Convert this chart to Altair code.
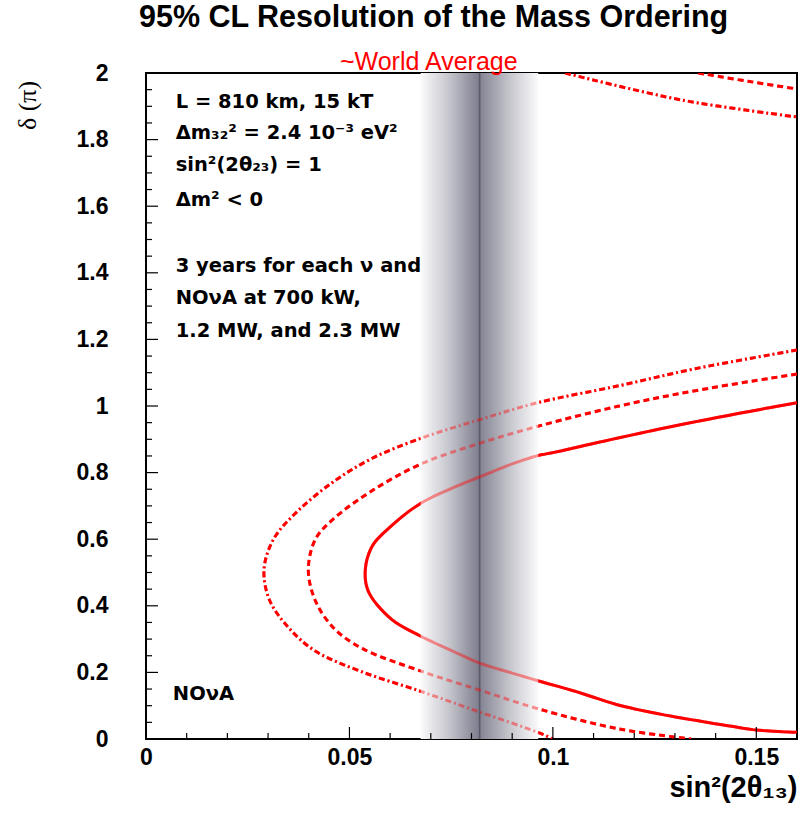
import altair as alt
import pandas as pd

# ---------------- data ----------------
curve_names = ["2.3 MW", "1.2 MW", "700 kW"]

# solid contour (2.3 MW)
solid_x = [0.160, 0.148, 0.136, 0.124, 0.112, 0.100, 0.0963, 0.090, 0.082, 0.075,
           0.0673, 0.0603, 0.0556, 0.0539, 0.0547, 0.0603, 0.0673, 0.075, 0.082,
           0.090, 0.0963, 0.105, 0.1163, 0.125, 0.135, 0.143, 0.150, 0.160]
solid_y = [1.010, 0.983, 0.955, 0.925, 0.893, 0.860, 0.851, 0.826, 0.787, 0.752,
           0.706, 0.640, 0.579, 0.508, 0.442, 0.360, 0.310, 0.266, 0.228,
           0.198, 0.175, 0.145, 0.1015, 0.078, 0.056, 0.040, 0.027, 0.020]

# dashed contour (1.2 MW)
dash_x = [0.160, 0.135, 0.1163, 0.0963, 0.082, 0.0678, 0.0556, 0.046, 0.0416, 0.0399,
          0.0416, 0.046, 0.0528, 0.0678, 0.082, 0.0963, 0.1163, 0.134]
dash_y = [1.096, 1.046, 1.000, 0.939, 0.888, 0.827, 0.746, 0.660, 0.599, 0.508,
          0.416, 0.335, 0.274, 0.203, 0.147, 0.091, 0.030, 0.000]
dash_top_x = [0.1357, 0.148, 0.160]
dash_top_y = [2.000, 1.975, 1.952]

# dash-dot contour (700 kW)
dd_x = [0.160, 0.135, 0.1163, 0.0963, 0.082, 0.0678, 0.0556, 0.046, 0.0369, 0.0313,
        0.029, 0.0304, 0.035, 0.0416, 0.0528, 0.0678, 0.082, 0.0963, 0.100]
dd_y = [1.168, 1.112, 1.061, 1.010, 0.959, 0.904, 0.843, 0.772, 0.680, 0.599,
        0.508, 0.416, 0.335, 0.264, 0.203, 0.142, 0.081, 0.020, 0.000]
dd_top_x = [0.103, 0.1316, 0.160]
dd_top_y = [2.000, 1.919, 1.868]

# world-average band (sin^2 2theta13)
band_lo, band_mid, band_hi = 0.0675, 0.082, 0.0964

# axis ticks
x_major = [0, 0.05, 0.10, 0.15]
x_minor = [0.01, 0.02, 0.03, 0.04, 0.06, 0.07, 0.08, 0.09, 0.11, 0.12, 0.13, 0.14, 0.16]
y_major = [0, 0.2, 0.4, 0.6, 0.8, 1.0, 1.2, 1.4, 1.6, 1.8, 2.0]
y_minor = [0.05, 0.1, 0.15, 0.25, 0.3, 0.35, 0.45, 0.5, 0.55, 0.65, 0.7, 0.75,
           0.85, 0.9, 0.95, 1.05, 1.1, 1.15, 1.25, 1.3, 1.35, 1.45, 1.5, 1.55,
           1.65, 1.7, 1.75, 1.85, 1.9, 1.95]

# annotation text
note_text = ["L = 810 km, 15 kT",
             "\u0394m\u2083\u2082\u00b2 = 2.4 10\u207b\u00b3 eV\u00b2",
             "sin\u00b2(2\u03b8\u2082\u2083) = 1",
             "\u0394m\u00b2 < 0",
             "3 years for each \u03bd and \u03bd\u0304",
             "NO\u03bdA at 700 kW,",
             "1.2 MW, and 2.3 MW",
             "NO\u03bdA"]
note_x = [0.0073] * 7 + [0.0066]
note_y = [1.895, 1.802, 1.706, 1.600, 1.402, 1.306, 1.207, 0.117]

wa_text = "~World Average"
wa_x = 0.0695
wa_y = 2.0

# ---------------- tables ----------------
rows = []
def add(curve, seg, xs_, ys_):
    for i, (a, b) in enumerate(zip(xs_, ys_)):
        rows.append({"curve": curve, "seg": curve + "_" + seg, "i": i, "x": a, "y": b})

add("2.3 MW", "main", solid_x, solid_y)
add("1.2 MW", "main", dash_x, dash_y)
add("1.2 MW", "top", dash_top_x, dash_top_y)
add("700 kW", "main", dd_x, dd_y)
add("700 kW", "top", dd_top_x, dd_top_y)
curves = pd.DataFrame(rows)

band = pd.DataFrame({"x": [band_lo], "mid": [band_mid], "hi": [band_hi]})
notes = pd.DataFrame({"x": note_x, "y": note_y, "text": note_text})
wa = pd.DataFrame({"x": [wa_x], "y": [wa_y], "text": [wa_text]})
xt_major = pd.DataFrame({"x": x_major})
xt_minor = pd.DataFrame({"x": x_minor})
yt_major = pd.DataFrame({"y": y_major})
yt_minor = pd.DataFrame({"y": y_minor})

W, H = 651, 666
xs = alt.Scale(domain=[0, 0.16], nice=False, zero=False)
ys = alt.Scale(domain=[0, 2], nice=False, zero=False)

x_axis = alt.Axis(values=x_major, format="~g", ticks=False, domain=False, grid=False,
                  labelFont="Liberation Sans", labelFontSize=23, labelFontWeight="bold",
                  labelColor="black", labelPadding=7, labelFlush=False, labelOverlap=False,
                  title="sin\u00b2(2\u03b8\u2081\u2083)", titleFont="Liberation Sans",
                  titleFontSize=29, titleFontWeight="bold", titleColor="black",
                  titleX=W, titleY=57, titleAlign="right", titleBaseline="alphabetic")
y_axis = alt.Axis(values=y_major, format="~g", ticks=False, domain=False, grid=False,
                  labelFont="Liberation Sans", labelFontSize=23, labelFontWeight="bold",
                  labelColor="black", labelPadding=38, labelFlush=False, labelOverlap=False,
                  title="\u03b4 (\u03c0)", titleFont="Liberation Serif", titleFontSize=26,
                  titleFontWeight="normal", titleColor="black", titleAngle=270,
                  titleX=-119, titleY=32, titleAlign="center", titleBaseline="middle")

X = alt.X("x:Q", scale=xs, axis=x_axis)
Y = alt.Y("y:Q", scale=ys, axis=y_axis)

dash_scale = alt.Scale(domain=curve_names, range=[[10, 0], [6, 4], [6, 3, 2, 3]])

def curve_layer(opacity):
    return alt.Chart(curves).mark_line(color="#ff0000", strokeWidth=3, clip=True,
                                       strokeCap="butt", opacity=opacity,
                                       interpolate="catmull-rom").encode(
        x=X, y=Y,
        detail="seg:N",
        order="i:Q",
        strokeDash=alt.StrokeDash("curve:N", scale=dash_scale, legend=None),
    )

curves_full = curve_layer(1.0)
curves_faded = curve_layer(0.42)

notes_layer = alt.Chart(notes).mark_text(align="left", baseline="alphabetic", font="DejaVu Sans",
                                         fontWeight="bold", fontSize=19.5, color="black").encode(
    x=X, y=Y, text="text:N")

grad_left = alt.Gradient(gradient="linear", x1=0, x2=1, y1=0, y2=0, stops=[
    alt.GradientStop(color="#fbfbfc", offset=0),
    alt.GradientStop(color="#c3c3cb", offset=0.5),
    alt.GradientStop(color="#7c7c8c", offset=1)])
grad_right = alt.Gradient(gradient="linear", x1=0, x2=1, y1=0, y2=0, stops=[
    alt.GradientStop(color="#838393", offset=0),
    alt.GradientStop(color="#c4c4cc", offset=0.5),
    alt.GradientStop(color="#fbfbfc", offset=1)])

band_left = alt.Chart(band).mark_rect(fill=grad_left).encode(
    x=X, x2="mid:Q", y=alt.value(0), y2=alt.value(H))
band_right = alt.Chart(band).mark_rect(fill=grad_right).encode(
    x=alt.X("mid:Q", scale=xs, axis=x_axis), x2="hi:Q", y=alt.value(0), y2=alt.value(H))
band_line = alt.Chart(band).mark_rule(color="#5a5a6c", strokeWidth=1.6).encode(
    x=alt.X("mid:Q", scale=xs, axis=x_axis), y=alt.value(0), y2=alt.value(H))

def xticks(df, length):
    return alt.Chart(df).mark_rule(color="black", strokeWidth=1.2).encode(
        x=X, y=alt.value(H), y2=alt.value(H - length))

def yticks(df, length):
    return alt.Chart(df).mark_rule(color="black", strokeWidth=1.2).encode(
        y=Y, x=alt.value(0), x2=alt.value(length))

wa_layer = alt.Chart(wa).mark_text(align="center", baseline="alphabetic", font="Liberation Sans",
                                   fontSize=25, color="#ff0000", dy=-3).encode(
    x=X, y=Y, text="text:N")

chart = alt.layer(
    curves_full, notes_layer, band_left, band_right, band_line, curves_faded,
    xticks(xt_major, 12), xticks(xt_minor, 6), yticks(yt_major, 12), yticks(yt_minor, 6),
    wa_layer,
).properties(
    width=W, height=H,
    background="white",
    autosize=alt.AutoSizeParams(type="none"),
    padding={"left": 146, "top": 73, "right": 1, "bottom": 78},
    title=alt.Title("95% CL Resolution of the Mass Ordering", font="Liberation Sans",
                    fontSize=30.5, fontWeight="bold", color="black", anchor="start",
                    frame="group", dx=-7, dy=7, offset=0, baseline="alphabetic"),
).configure_view(stroke="black", strokeWidth=2)

chart.save("out.html", embed_options={"renderer": "svg", "actions": False})
